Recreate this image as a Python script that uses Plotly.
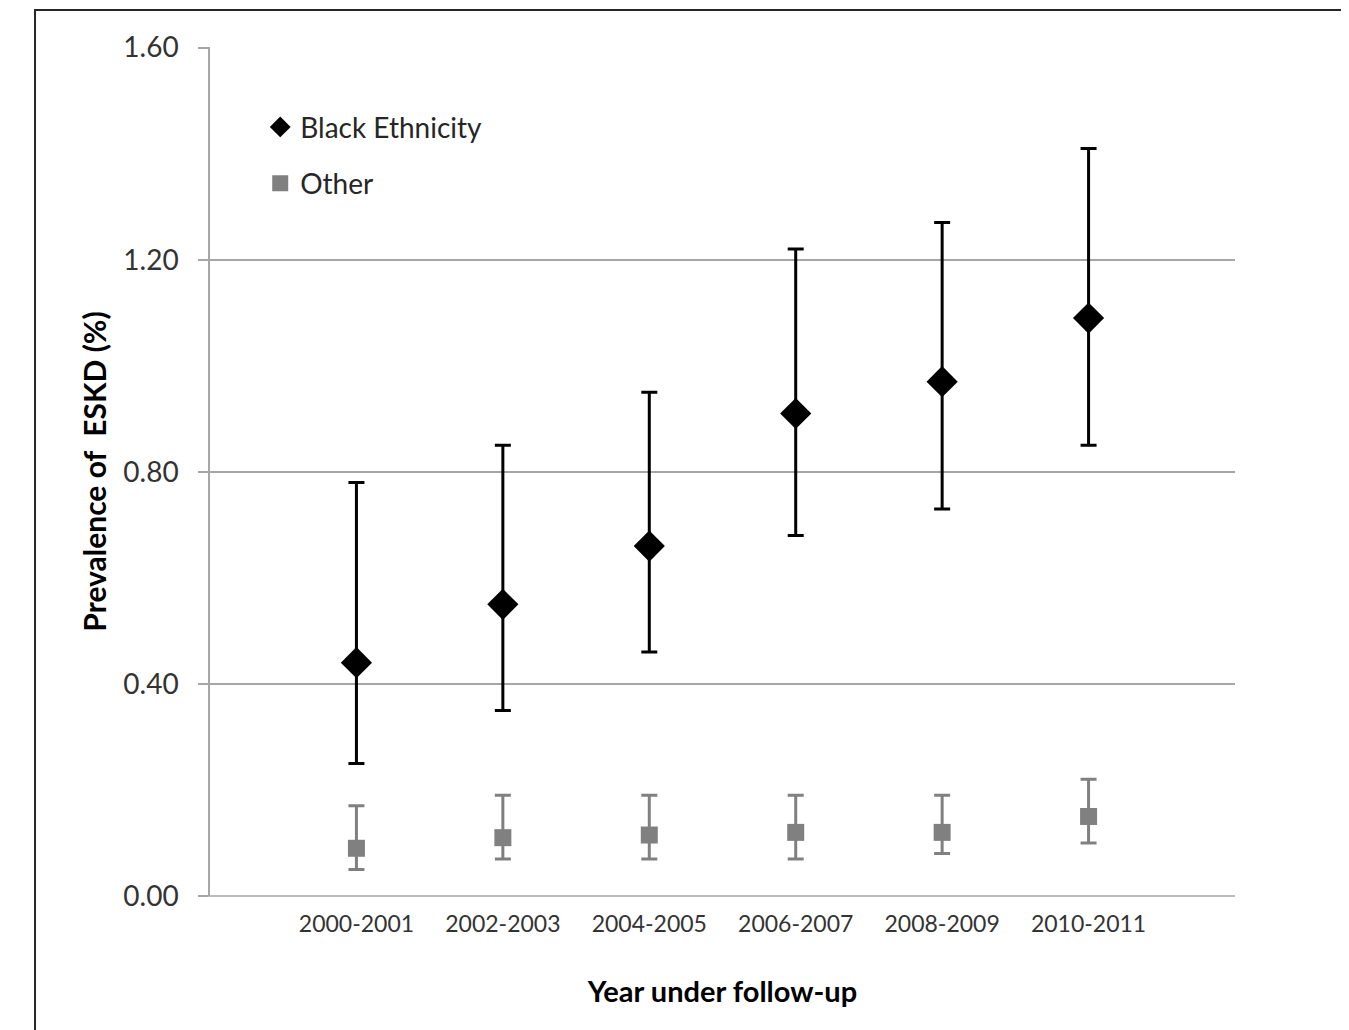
import plotly.graph_objects as go

categories = ["2000-2001", "2002-2003", "2004-2005", "2006-2007", "2008-2009", "2010-2011"]
black_val = [0.44, 0.55, 0.66, 0.91, 0.97, 1.09]
black_low = [0.25, 0.35, 0.46, 0.68, 0.73, 0.85]
black_high = [0.78, 0.85, 0.95, 1.22, 1.27, 1.41]
other_val = [0.09, 0.11, 0.115, 0.12, 0.12, 0.15]
other_low = [0.05, 0.07, 0.07, 0.07, 0.08, 0.10]
other_high = [0.17, 0.19, 0.19, 0.19, 0.19, 0.22]
y_ticks = [0.0, 0.4, 0.8, 1.2, 1.6]
y_tick_text = ["0.00", "0.40", "0.80", "1.20", "1.60"]

xpos = list(range(1, len(categories) + 1))
FONT = "Lato, 'Open Sans', sans-serif"

fig = go.Figure()
fig.add_trace(go.Scatter(
    x=xpos, y=black_val, mode="markers", name="Black Ethnicity",
    legendgroup="a",
    marker=dict(symbol="diamond", size=24, color="black"),
    error_y=dict(type="data", symmetric=False,
                 array=[h - v for h, v in zip(black_high, black_val)],
                 arrayminus=[v - l for v, l in zip(black_val, black_low)],
                 color="black", thickness=3, width=8),
))
fig.add_trace(go.Scatter(
    x=xpos, y=other_val, mode="markers", name="Other",
    legendgroup="b",
    marker=dict(symbol="square", size=17, color="#808080"),
    error_y=dict(type="data", symmetric=False,
                 array=[h - v for h, v in zip(other_high, other_val)],
                 arrayminus=[v - l for v, l in zip(other_val, other_low)],
                 color="#808080", thickness=3, width=8),
))

fig.update_layout(
    width=1349, height=1030,
    margin=dict(l=202, r=122, t=39, b=142),
    paper_bgcolor="white", plot_bgcolor="white",
    font=dict(family=FONT, color="#333333"),
    showlegend=True,
    legend=dict(x=0.049, y=0.935, xanchor="left", yanchor="top",
                font=dict(size=28, family=FONT, color="#262626"),
                tracegroupgap=17, itemwidth=30, bgcolor="rgba(0,0,0,0)"),
    xaxis=dict(range=[0, 7], tickmode="array", tickvals=xpos, ticktext=categories,
               showgrid=False, zeroline=False, showline=False, ticks="",
               ticklabelstandoff=12,
               tickfont=dict(size=23, family=FONT, color="#333333"),
               title=dict(text="<b>Year under follow-up</b>", standoff=45,
                          font=dict(size=29, family=FONT, color="black"))),
    yaxis=dict(range=[0, 1.6012], tickmode="array", tickvals=y_ticks, ticktext=y_tick_text,
               showgrid=True, gridcolor="#a6a6a6", gridwidth=1.5,
               zeroline=False, showline=True, linecolor="#a6a6a6", linewidth=1.5,
               ticks="outside", ticklen=10, tickcolor="#a6a6a6", tickwidth=1.5,
               ticklabelstandoff=14,
               tickfont=dict(size=28, family=FONT, color="#333333"),
               title=dict(text="<b>Prevalence of  ESKD (%)</b>", standoff=8,
                          font=dict(size=30, family=FONT, color="black"))),
    shapes=[
        dict(type="rect", xref="paper", yref="paper",
             x0=-0.1707, x1=1.1102, y0=-0.2, y1=1.0436,
             line=dict(color="#262626", width=2), layer="below"),
        dict(type="line", xref="paper", yref="paper",
             x0=-0.0098, x1=1.0, y0=0, y1=0,
             line=dict(color="#a6a6a6", width=1.5)),
    ],
)

fig.write_html("out.html")
